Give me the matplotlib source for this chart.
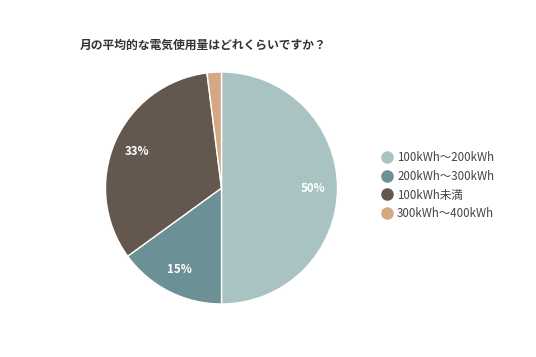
import matplotlib.pyplot as plt
from matplotlib.lines import Line2D

plt.rcParams['font.family'] = ['Noto Sans CJK JP', 'DejaVu Sans']

# data
labels = ['100kWh～200kWh', '200kWh～300kWh', '100kWh未満', '300kWh～400kWh']
values = [50, 15, 33, 2]
colors = ['#a9c2c2', '#6b9095', '#64574e', '#d4a883']
title = '月の平均的な電気使用量はどれくらいですか？'

W, H = 536, 357
fig = plt.figure(figsize=(W / 100, H / 100), dpi=100)

# pie axes: centre (221.5, 188) px, radius 116 px
cx, cy, r = 221.5, 188, 116
ax = fig.add_axes([(cx - r) / W, 1 - (cy + r) / H, 2 * r / W, 2 * r / H])
wedges, _, autotexts = ax.pie(values, colors=colors, startangle=90, counterclock=False,
                              autopct=lambda p: f'{p:.0f}%' if p >= 5 else '',
                              pctdistance=0.79,
                              wedgeprops=dict(edgecolor='white', linewidth=1))
for t in autotexts:
    t.set_color('white')
    t.set_fontsize(8.3)
    t.set_fontweight('bold')
ax.set_xlim(-1, 1)
ax.set_ylim(-1, 1)
ax.set_aspect('equal')
ax.axis('off')

fig.text(80 / W, 1 - 45 / H, title, fontsize=8.5, fontweight='bold', color='#333333',
         ha='left', va='center')

handles = [Line2D([], [], marker='o', linestyle='', markersize=8,
                  markerfacecolor=c, markeredgecolor=c) for c in colors]
fig.legend(handles, labels, loc='upper left', bbox_to_anchor=(381 / W, 1 - 151 / H),
           frameon=False, fontsize=8.3, labelcolor='#444444', handlelength=1.0,
           handletextpad=0.4, labelspacing=0.5, borderaxespad=0, borderpad=0)

fig.savefig('out.png', dpi=100, facecolor='white')
